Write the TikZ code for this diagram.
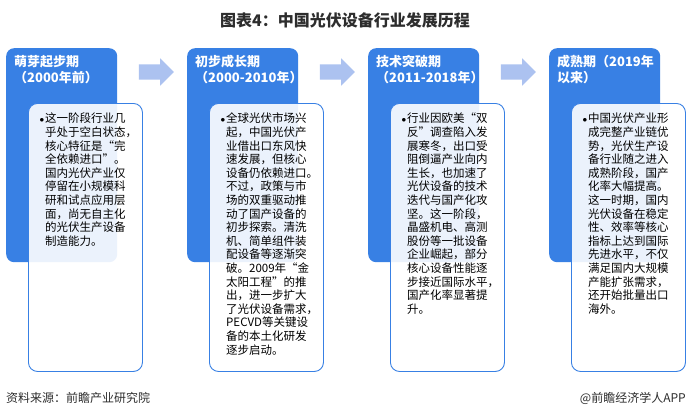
\documentclass[tikz,border=0pt]{standalone}
\usepackage{fontspec}
\setmainfont{Noto Sans CJK SC}
\usepackage{tikz}
\usetikzlibrary{shapes.arrows}
\definecolor{phaseblue}{RGB}{56,128,228}
\definecolor{arrowblue}{RGB}{172,194,240}
\definecolor{darktext}{RGB}{45,45,45}
\tikzset{
    phasebox/.style={fill=phaseblue, rounded corners=8pt, minimum width=111pt, minimum height=214pt, anchor=north west, inner sep=0pt},
    notebox/.style={draw=phaseblue, line width=0.9pt, fill=white, fill opacity=0.9, rounded corners=9pt, minimum width=114pt, minimum height=268pt, anchor=north west, inner sep=0pt},
    phasehead/.style={anchor=north west, inner sep=0pt, text=white, align=left, font=\bfseries\fontsize{13}{16}\selectfont},
    notebody/.style={anchor=north west, inner sep=0pt, text width=100pt, align=left, text=black, font=\fontsize{11.5}{13.6}\selectfont},
    flowarrow/.style={single arrow, fill=arrowblue, inner xsep=0pt, inner ysep=7.5pt, text height=0pt, text depth=0pt, minimum height=35pt, single arrow head extend=6pt}
}
\newcommand{\notebullet}{\llap{\small$\bullet$\hspace{1pt}}}

\begin{document}
\begin{tikzpicture}[x=1pt,y=-1pt]
    \fill[white] (0,0) rectangle (690,415);
    \useasboundingbox (0,0) rectangle (690,415);
    \node[font=\bfseries\fontsize{16}{19}\selectfont, text=darktext] (title) at (345,20) {图表4：中国光伏设备行业发展历程};

    \node[phasebox] (sprout) at (6,48) {};
    \node[phasebox] (growth) at (187,48) {};
    \node[phasebox] (breakthrough) at (368,48) {};
    \node[phasebox] (mature) at (549,48) {};

    \node[flowarrow] (arrowA) at (152.5,72) {};
    \node[flowarrow] (arrowB) at (333.5,72) {};
    \node[flowarrow] (arrowC) at (514.5,72) {};

    \node[phasehead] (sproutHead) at (14,55) {萌芽起步期\\（2000年前）};
    \node[phasehead] (growthHead) at (195,55) {初步成长期\\（2000-2010年）};
    \node[phasehead] (breakthroughHead) at (376,55) {技术突破期\\（2011-2018年）};
    \node[phasehead] (matureHead) at (557,55) {成熟期（2019年\\以来）};

    \node[notebox] (sproutNote) at (28,103) {};
    \node[notebox] (growthNote) at (209,103) {};
    \node[notebox] (breakthroughNote) at (390,103) {};
    \node[notebox] (matureNote) at (571,103) {};

    \node[notebody] (sproutText) at (45,113) {\notebullet 这一阶段行业几\\乎处于空白状态，\\核心特征是“完\\全依赖进口”。\\国内光伏产业仅\\停留在小规模科\\研和试点应用层\\面，尚无自主化\\的光伏生产设备\\制造能力。};
    \node[notebody] (growthText) at (226,113) {\notebullet 全球光伏市场兴\\起，中国光伏产\\业借出口东风快\\速发展，但核心\\设备仍依赖进口。\\不过，政策与市\\场的双重驱动推\\动了国产设备的\\初步探索。清洗\\机、简单组件装\\配设备等逐渐突\\破。2009年“金\\太阳工程”的推\\出，进一步扩大\\了光伏设备需求，\\PECVD等关键设\\备的本土化研发\\逐步启动。};
    \node[notebody] (breakthroughText) at (407,113) {\notebullet 行业因欧美“双\\反”调查陷入发\\展寒冬，出口受\\阻倒逼产业向内\\生长，也加速了\\光伏设备的技术\\迭代与国产化攻\\坚。这一阶段，\\晶盛机电、高测\\股份等一批设备\\企业崛起，部分\\核心设备性能逐\\步接近国际水平，\\国产化率显著提\\升。};
    \node[notebody] (matureText) at (588,113) {\notebullet 中国光伏产业形\\成完整产业链优\\势，光伏生产设\\备行业随之进入\\成熟阶段，国产\\化率大幅提高。\\这一时期，国内\\光伏设备在稳定\\性、效率等核心\\指标上达到国际\\先进水平，不仅\\满足国内大规模\\产能扩张需求，\\还开始批量出口\\海外。};

    \node[anchor=west, inner sep=0pt, font=\fontsize{12}{14}\selectfont, text=darktext] (source) at (6,398) {资料来源：前瞻产业研究院};
    \node[anchor=east, inner sep=0pt, font=\fontsize{12}{14}\selectfont, text=darktext] (credit) at (686,398) {@前瞻经济学人APP};
\end{tikzpicture}
\end{document}
